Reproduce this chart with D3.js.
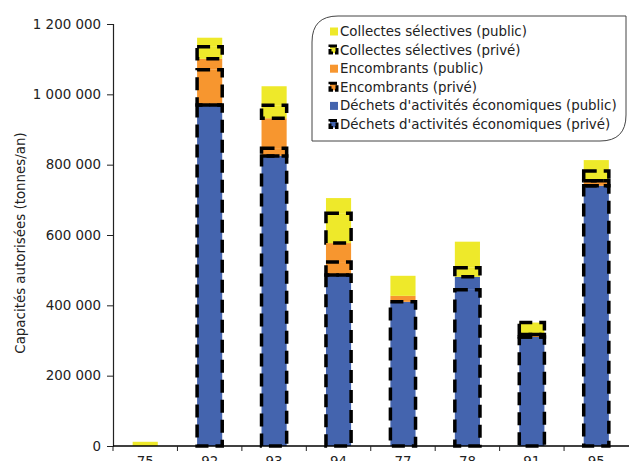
<!DOCTYPE html>
<html>
<head>
<meta charset="utf-8">
<script src="https://cdn.jsdelivr.net/npm/d3@7"></script>
<style>
  html, body { margin: 0; padding: 0; background: #fff; }
  svg { display: block; font-family: "DejaVu Sans", Verdana, sans-serif; }
</style>
</head>
<body>
<svg id="chart" width="629" height="461"></svg>
<script>
// ---- Data ----
const categories = ["75", "92", "93", "94", "77", "78", "91", "95"];
const dechetsPrive      = [0, 970000, 825000, 486000, 410000, 444000, 310000, 740000];
const dechetsPublic     = [0, 0, 0, 0, 0, 37000, 0, 0];
const encombrantsPrive  = [0, 100000, 22000, 37000, 0, 0, 7000, 14000];
const encombrantsPublic = [0, 31000, 85000, 54000, 17000, 0, 0, 0];
const collectesPrive    = [0, 34000, 37000, 85000, 0, 26000, 34000, 28000];
const collectesPublic   = [12000, 26000, 54000, 43000, 57000, 74000, 0, 31000];
const yTicks = [0, 200000, 400000, 600000, 800000, 1000000, 1200000];
const yTitle = "Capacités autorisées (tonnes/an)";

const BLUE = "#4464ae", ORANGE = "#f7962f", YELLOW = "#eee92a";
const FS = 13.4;

// stacking order bottom -> top
const series = [
  { key: "dechetsPrive",      label: "Déchets d'activités économiques (privé)",  values: dechetsPrive,      color: BLUE,   prive: true },
  { key: "dechetsPublic",     label: "Déchets d'activités économiques (public)", values: dechetsPublic,     color: BLUE,   prive: false },
  { key: "encombrantsPrive",  label: "Encombrants (privé)",                       values: encombrantsPrive,  color: ORANGE, prive: true },
  { key: "encombrantsPublic", label: "Encombrants (public)",                      values: encombrantsPublic, color: ORANGE, prive: false },
  { key: "collectesPrive",    label: "Collectes sélectives (privé)",              values: collectesPrive,    color: YELLOW, prive: true },
  { key: "collectesPublic",   label: "Collectes sélectives (public)",             values: collectesPublic,   color: YELLOW, prive: false }
];

const table = categories.map((c, i) => {
  const row = { cat: c };
  series.forEach(s => row[s.key] = s.values[i]);
  return row;
});

const svg = d3.select("#chart");
const pLeft = 113, pRight = 629, pTop = 24, pBottom = 446;

const x = d3.scaleBand().domain(categories).range([pLeft, pLeft + 515.5])
  .paddingInner(0.61).paddingOuter(0.305);
const y = d3.scaleLinear().domain([0, 1200000]).range([pBottom, pTop]);

const locale = d3.formatLocale({ decimal: ",", thousands: "\u00a0", grouping: [3], currency: ["", " €"] });
const fmt = locale.format(",d");

const stack = d3.stack().keys(series.map(s => s.key));
const stacked = stack(table);

// fills
const gBars = svg.append("g");
stacked.forEach((layer, li) => {
  const s = series[li];
  gBars.selectAll(null)
    .data(layer.filter(d => d[1] - d[0] > 0))
    .join("rect")
    .attr("x", d => x(d.data.cat))
    .attr("width", x.bandwidth())
    .attr("y", d => y(d[1]))
    .attr("height", d => y(d[0]) - y(d[1]))
    .attr("fill", s.color);
});
// dashed outlines for privé
stacked.forEach((layer, li) => {
  const s = series[li];
  if (!s.prive) return;
  gBars.selectAll(null)
    .data(layer.filter(d => d[1] - d[0] > 0))
    .join("rect")
    .attr("x", d => x(d.data.cat))
    .attr("width", x.bandwidth())
    .attr("y", d => y(d[1]))
    .attr("height", d => y(d[0]) - y(d[1]))
    .attr("fill", "none")
    .attr("stroke", "#000")
    .attr("stroke-width", 3.5)
    .attr("stroke-dasharray", "13,7");
});

// y axis
const yAxis = d3.axisLeft(y).tickValues(yTicks).tickFormat(fmt).tickSize(6).tickPadding(6);
const gy = svg.append("g").attr("transform", `translate(${pLeft},0)`).call(yAxis);
gy.select(".domain").attr("stroke", "#222").attr("stroke-width", 1.2);
gy.selectAll(".tick line").attr("stroke", "#222");
gy.selectAll(".tick text").attr("font-size", FS).attr("fill", "#222")
  .attr("font-family", "DejaVu Sans, Verdana, sans-serif");

// x axis
const gx = svg.append("g").attr("transform", `translate(0,${pBottom})`);
gx.append("line").attr("x1", pLeft).attr("x2", pRight).attr("y1", 0).attr("y2", 0)
  .attr("stroke", "#000").attr("stroke-width", 1.6);
const step = x.step();
const bounds = categories.map(c => x(c) - (step - x.bandwidth()) / 2);
gx.selectAll(null).data(bounds).join("line")
  .attr("x1", d => d).attr("x2", d => d).attr("y1", 0).attr("y2", 5)
  .attr("stroke", "#222");
gx.selectAll(null).data(categories).join("text")
  .attr("x", d => x(d) + x.bandwidth() / 2)
  .attr("y", 20)
  .attr("text-anchor", "middle")
  .attr("font-size", FS).attr("fill", "#222")
  .text(d => d);

// y title
svg.append("text")
  .attr("transform", `translate(25,${(pTop + pBottom) / 2 + 8}) rotate(-90)`)
  .attr("text-anchor", "middle")
  .attr("font-size", FS).attr("fill", "#222")
  .text(yTitle);

// legend
const lx0 = 312, ly0 = 16, lx1 = 626, ly1 = 141, r = 26;
svg.append("path")
  .attr("d", `M${lx0},${ly1} L${lx0},${ly0 + r} Q${lx0},${ly0} ${lx0 + r},${ly0} L${lx1},${ly0} L${lx1},${ly1 - r} Q${lx1},${ly1} ${lx1 - r},${ly1} Z`)
  .attr("fill", "#fff").attr("stroke", "#444").attr("stroke-width", 1);

const legendItems = series.slice().reverse();
const lg = svg.append("g");
legendItems.forEach((s, i) => {
  const cy = 31.5 + i * 18.6;
  if (s.prive) {
    lg.append("rect").attr("x", 330).attr("y", cy - 4).attr("width", 7).attr("height", 7)
      .attr("fill", s.color).attr("stroke", "#000").attr("stroke-width", 3)
      .attr("stroke-dasharray", "7,2");
  } else {
    lg.append("rect").attr("x", 330).attr("y", cy - 4).attr("width", 8).attr("height", 8)
      .attr("fill", s.color);
  }
  lg.append("text").attr("x", 340).attr("y", cy + 4.5)
    .attr("font-size", FS).attr("fill", "#222").text(s.label);
});
</script>
</body>
</html>
